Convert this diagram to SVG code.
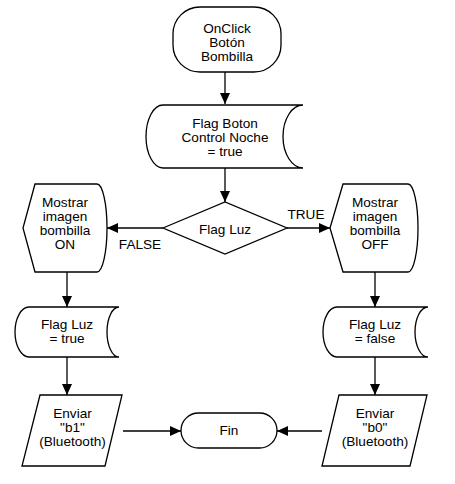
<svg xmlns="http://www.w3.org/2000/svg" width="455" height="484" viewBox="0 0 455 484">
<style>
.s{fill:#fff;stroke:#000;stroke-width:1.3}
.c{fill:none;stroke:#000;stroke-width:1.3}
text{font-family:"Liberation Sans",Arial,sans-serif;font-size:13.6px;fill:#000;text-anchor:middle}
</style>
<defs>
<marker id="ah" markerUnits="userSpaceOnUse" markerWidth="11" markerHeight="10" refX="11" refY="5" orient="auto">
<path d="M0,0 L11,5 L0,10 Z" fill="#000"/>
</marker>
</defs>
<rect width="455" height="484" fill="#fff"/>
<g id="connectors">
<line class="c" x1="225" y1="72" x2="225" y2="104" marker-end="url(#ah)"/>
<line class="c" x1="225" y1="168" x2="225" y2="202" marker-end="url(#ah)"/>
<line class="c" x1="163" y1="228" x2="107" y2="228" marker-end="url(#ah)"/>
<line class="c" x1="287" y1="228" x2="330" y2="228" marker-end="url(#ah)"/>
<line class="c" x1="67" y1="272" x2="67" y2="307" marker-end="url(#ah)"/>
<line class="c" x1="375" y1="272" x2="375" y2="307" marker-end="url(#ah)"/>
<line class="c" x1="67" y1="357" x2="67" y2="395" marker-end="url(#ah)"/>
<line class="c" x1="375" y1="357" x2="375" y2="395" marker-end="url(#ah)"/>
<line class="c" x1="123" y1="431" x2="181" y2="431" marker-end="url(#ah)"/>
<line class="c" x1="322" y1="431" x2="277" y2="431" marker-end="url(#ah)"/>
<text x="140" y="248.5">FALSE</text>
<text x="306" y="219">TRUE</text>
</g>
<g id="start">
<rect class="s" x="173" y="7" width="108" height="65" rx="27" ry="27"/>
<text x="227" y="32.5">OnClick</text>
<text x="227" y="46.5">Botón</text>
<text x="227" y="60.5">Bombilla</text>
</g>
<g id="flagBoton">
<path class="s" d="M163,105 H303 A20,31.5 0 0 0 303,168 H163 A17,31.5 0 0 1 163,105 Z"/>
<text x="225" y="128">Flag Boton</text>
<text x="225" y="142">Control Noche</text>
<text x="225" y="156">= true</text>
</g>
<g id="decision">
<polygon class="s" points="163,228 225,202 287,228 225,254"/>
<text x="225" y="233.5">Flag Luz</text>
</g>
<g id="displayOn">
<path class="s" d="M35,184 H97 A10,44 0 0 1 97,272 H35 L23,228 Z"/>
<text x="65" y="206.5">Mostrar</text>
<text x="65" y="220.5">imagen</text>
<text x="65" y="234.5">bombilla</text>
<text x="65" y="248.5">ON</text>
</g>
<g id="displayOff">
<path class="s" d="M343,184 H408 A10,44 0 0 1 408,272 H343 L330,228 Z"/>
<text x="375" y="206.5">Mostrar</text>
<text x="375" y="220.5">imagen</text>
<text x="375" y="234.5">bombilla</text>
<text x="375" y="248.5">OFF</text>
</g>
<g id="flagTrue">
<path class="s" d="M29,307 H119 A12,25 0 0 0 119,357 H29 A14,25 0 0 1 29,307 Z"/>
<text x="67" y="329">Flag Luz</text>
<text x="67" y="343">= true</text>
</g>
<g id="flagFalse">
<path class="s" d="M337,307 H428 A13,25 0 0 0 428,357 H337 A14,25 0 0 1 337,307 Z"/>
<text x="375" y="329">Flag Luz</text>
<text x="375" y="343">= false</text>
</g>
<g id="sendB1">
<polygon class="s" points="40,395 122,395 105,466 22,466"/>
<text x="72.5" y="417.5">Enviar</text>
<text x="72.5" y="431.5">"b1"</text>
<text x="72.5" y="445.5">(Bluetooth)</text>
</g>
<g id="sendB0">
<polygon class="s" points="339,395 427,395 410,466 322,466"/>
<text x="375" y="417.5">Enviar</text>
<text x="375" y="431.5">"b0"</text>
<text x="375" y="445.5">(Bluetooth)</text>
</g>
<g id="fin">
<rect class="s" x="181" y="413" width="96" height="35" rx="17.5" ry="17.5"/>
<text x="229" y="435">Fin</text>
</g>
</svg>
